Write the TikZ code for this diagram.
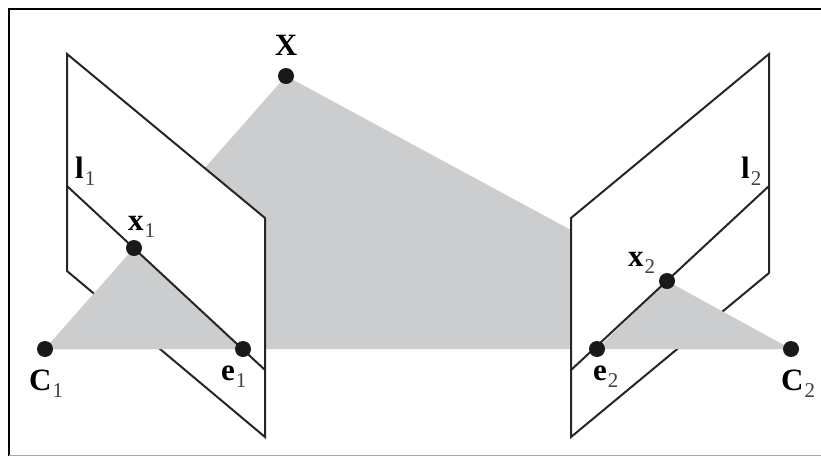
\documentclass[tikz,border=0pt]{standalone}
\usepackage{fontspec}
\setmainfont{Liberation Serif}
\definecolor{epigray}{HTML}{CBCDCE}
\definecolor{ink}{HTML}{262626}
\tikzset{
  plane/.style={draw=ink,line width=2pt,line join=miter,fill=white},
  edgeline/.style={draw=ink,line width=2pt},
  dot/.style={circle,fill=black!90,inner sep=0pt,minimum size=16pt},
  lab/.style={inner sep=0pt,font=\fontsize{31}{31}\selectfont\bfseries}
}
\newcommand{\lbl}[2]{#1\kern1pt{\fontsize{21}{21}\selectfont\mdseries\color{black!75}\raisebox{-7pt}{#2}}}
\begin{document}
\begin{tikzpicture}[x=1pt,y=-1pt]
\useasboundingbox (0,0) rectangle (821,456);
\fill[white] (0,0) rectangle (821,456);
% points
\coordinate (A1) at (67,54);
\coordinate (A2) at (265,218);
\coordinate (A3) at (265,437);
\coordinate (A4) at (67,271);
\coordinate (L1a) at (67,186);
\coordinate (L1b) at (265,370);
\coordinate (B1) at (769,54);
\coordinate (B2) at (571,218);
\coordinate (B3) at (571,437);
\coordinate (B4) at (769,273);
\coordinate (L2a) at (769,186);
\coordinate (L2b) at (571,370);
\coordinate (pC1) at (45,349);
\coordinate (pC2) at (791,349);
\coordinate (pX) at (286,76);
\coordinate (pE1) at (243,349);
\coordinate (pE2) at (597,349);
\coordinate (pX1) at (134,248);
\coordinate (pX2) at (667,281);
% frame
\draw[black,line width=2.2pt] (821,9) -- (9,9) -- (9,456);
\draw[black!35,line width=1pt] (9,455.5) -- (821,455.5);
% epipolar plane
\fill[epigray] (pC1) -- (pX) -- (pC2) -- cycle;
% image planes
\path[plane] (A1) -- (A2) -- (A3) -- (A4) -- cycle;
\path[plane] (B1) -- (B2) -- (B3) -- (B4) -- cycle;
% parts of the plane in front
\fill[epigray] (pC1) -- (pX1) -- (pE1) -- cycle;
\fill[epigray] (pC2) -- (pX2) -- (pE2) -- cycle;
% epipolar lines
\draw[edgeline] (L1a) -- (L1b);
\draw[edgeline] (L2a) -- (L2b);
% points
\node[dot] (X) at (pX) {};
\node[dot] (C1) at (pC1) {};
\node[dot] (C2) at (pC2) {};
\node[dot] (e1) at (pE1) {};
\node[dot] (e2) at (pE2) {};
\node[dot] (x1) at (pX1) {};
\node[dot] (x2) at (pX2) {};
% labels
\node[lab,anchor=base] (tX) at (286,55) {X};
\node[lab,anchor=base west] (tC1) at (29,390) {\lbl{C}{1}};
\node[lab,anchor=base west] (tC2) at (781,390) {\lbl{C}{2}};
\node[lab,anchor=base west] (te1) at (221,380) {\lbl{e}{1}};
\node[lab,anchor=base west] (te2) at (593,380) {\lbl{e}{2}};
\node[lab,anchor=base west] (tx1) at (128,230) {\lbl{x}{1}};
\node[lab,anchor=base west] (tx2) at (628,266) {\lbl{x}{2}};
\node[lab,anchor=base west] (tl1) at (75,178) {\lbl{l}{1}};
\node[lab,anchor=base west] (tl2) at (741,178) {\lbl{l}{2}};
\end{tikzpicture}
\end{document}
